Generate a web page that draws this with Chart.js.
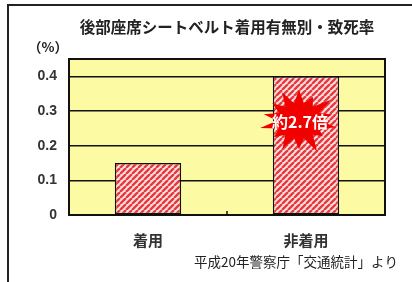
<!DOCTYPE html>
<html lang="ja">
<head>
<meta charset="utf-8">
<script src="https://cdn.jsdelivr.net/npm/chart.js@4/dist/chart.umd.min.js"></script>
<style>
  html, body { margin: 0; padding: 0; background: #fff; }
  #wrap { position: relative; width: 412px; height: 282px; overflow: hidden; }
  #frame { position: absolute; left: 7px; top: 4px; width: 600px; height: 600px; border: 2px solid #222; box-sizing: border-box; }
  canvas { position: absolute; left: 0; top: 0; }
</style>
</head>
<body>
<div id="wrap">
  <div id="frame"></div>
  <canvas id="c" width="412" height="282"></canvas>
</div>
<script>
// ---- data ----
const categories = ['着用', '非着用'];
const fatalityRate = [0.15, 0.40];
const yTicks = [0, 0.1, 0.2, 0.3, 0.4];
const yMax = 0.45;
const titleText = '後部座席シートベルト着用有無別・致死率';
const unitText = '（%）';
const sourceText = '平成20年警察庁「交通統計」より';
const ratioLabel = '約2.7倍';
const ratioLabelValue = 0.272;

const JP = '"Noto Sans CJK JP", "Noto Sans", sans-serif';

function stripePattern(ctx) {
  const s = 6;
  const c = document.createElement('canvas');
  c.width = s; c.height = s;
  const g = c.getContext('2d');
  g.fillStyle = '#ffe2e2';
  g.fillRect(0, 0, s, s);
  g.strokeStyle = '#e63a3e';
  g.lineWidth = 2.4;
  g.beginPath();
  for (let k = -1; k <= 1; k++) { g.moveTo(k * s, s); g.lineTo(k * s + s, 0); }
  g.stroke();
  return ctx.createPattern(c, 'repeat');
}

const decor = {
  id: 'decor',
  beforeDraw(chart) {
    const { ctx, chartArea: a } = chart;
    ctx.save();
    ctx.fillStyle = '#fdfaa4';
    ctx.fillRect(a.left, a.top, a.right - a.left, a.bottom - a.top);
    ctx.restore();
  },
  afterDatasetsDraw(chart) {
    const { ctx, chartArea: a, scales } = chart;
    ctx.save();
    ctx.strokeStyle = '#111';
    ctx.lineWidth = 2;
    ctx.strokeRect(a.left, a.top, a.right - a.left, a.bottom - a.top);
    const mid = (scales.x.getPixelForValue(0) + scales.x.getPixelForValue(1)) / 2;
    ctx.lineWidth = 1.5;
    ctx.beginPath(); ctx.moveTo(mid, a.bottom); ctx.lineTo(mid, a.bottom - 4); ctx.stroke();

    // starburst annotation
    const cx = scales.x.getPixelForValue(1) - 7;
    const cy = scales.y.getPixelForValue(ratioLabelValue);
    const spikes = [1.0, 0.85, 1.08, 0.9, 1.0, 0.8, 1.1, 0.92, 1.0, 0.85, 1.05, 0.95, 0.9, 1.02];
    const rx = 38, ry = 31;
    ctx.fillStyle = '#f20000';
    ctx.beginPath();
    const n = spikes.length;
    for (let i = 0; i < n * 2; i++) {
      const ang = -Math.PI / 2 + i * Math.PI / n;
      const f = i % 2 === 0 ? spikes[i / 2] : 0.58;
      const px = cx + Math.cos(ang) * rx * f;
      const py = cy + Math.sin(ang) * ry * f;
      if (i === 0) ctx.moveTo(px, py); else ctx.lineTo(px, py);
    }
    ctx.closePath();
    ctx.fill();
    ctx.fillStyle = '#fff';
    ctx.font = 'bold 16px ' + JP;
    ctx.textAlign = 'center';
    ctx.textBaseline = 'middle';
    ctx.fillText(ratioLabel, cx + 1, cy + 1);
    ctx.restore();
  },
  afterDraw(chart) {
    const { ctx, chartArea: a } = chart;
    ctx.save();
    ctx.fillStyle = '#222';
    ctx.textBaseline = 'middle';
    ctx.textAlign = 'center';
    ctx.font = 'bold 15.5px ' + JP;
    ctx.fillText(titleText, (a.left + a.right) / 2, 27);
    ctx.textAlign = 'right';
    ctx.font = 'bold 13.5px ' + JP;
    ctx.fillText(unitText, 68, 47);
    ctx.font = '13.5px ' + JP;
    ctx.fillText(sourceText, 398, 262);
    ctx.restore();
  }
};

const ctx = document.getElementById('c').getContext('2d');
new Chart(ctx, {
  type: 'bar',
  data: {
    labels: categories,
    datasets: [{
      data: fatalityRate,
      backgroundColor: stripePattern(ctx),
      borderColor: '#111',
      borderWidth: 1.5,
      borderSkipped: false,
      barPercentage: 0.42,
      categoryPercentage: 1.0
    }]
  },
  options: {
    responsive: false,
    animation: false,
    devicePixelRatio: 1,
    layout: { padding: { left: 10, top: 59, right: 27, bottom: 0 } },
    plugins: { legend: { display: false }, title: { display: false }, tooltip: { enabled: false } },
    scales: {
      x: {
        grid: { display: false, drawTicks: false },
        border: { display: false },
        ticks: { padding: 16, color: '#333', font: { family: JP, size: 15, weight: 'bold' } },
        afterFit(s) { s.height = 67; }
      },
      y: {
        min: 0, max: yMax,
        afterBuildTicks(s) { s.ticks = yTicks.map(v => ({ value: v })); },
        grid: { color: '#111', lineWidth: 1.5, drawTicks: false },
        border: { display: false },
        ticks: { padding: 12, color: '#333', font: { family: '"Liberation Sans", Arial, sans-serif', size: 14, weight: 'bold' } },
        afterFit(s) { s.width = 59; }
      }
    }
  },
  plugins: [decor]
});
</script>
</body>
</html>
